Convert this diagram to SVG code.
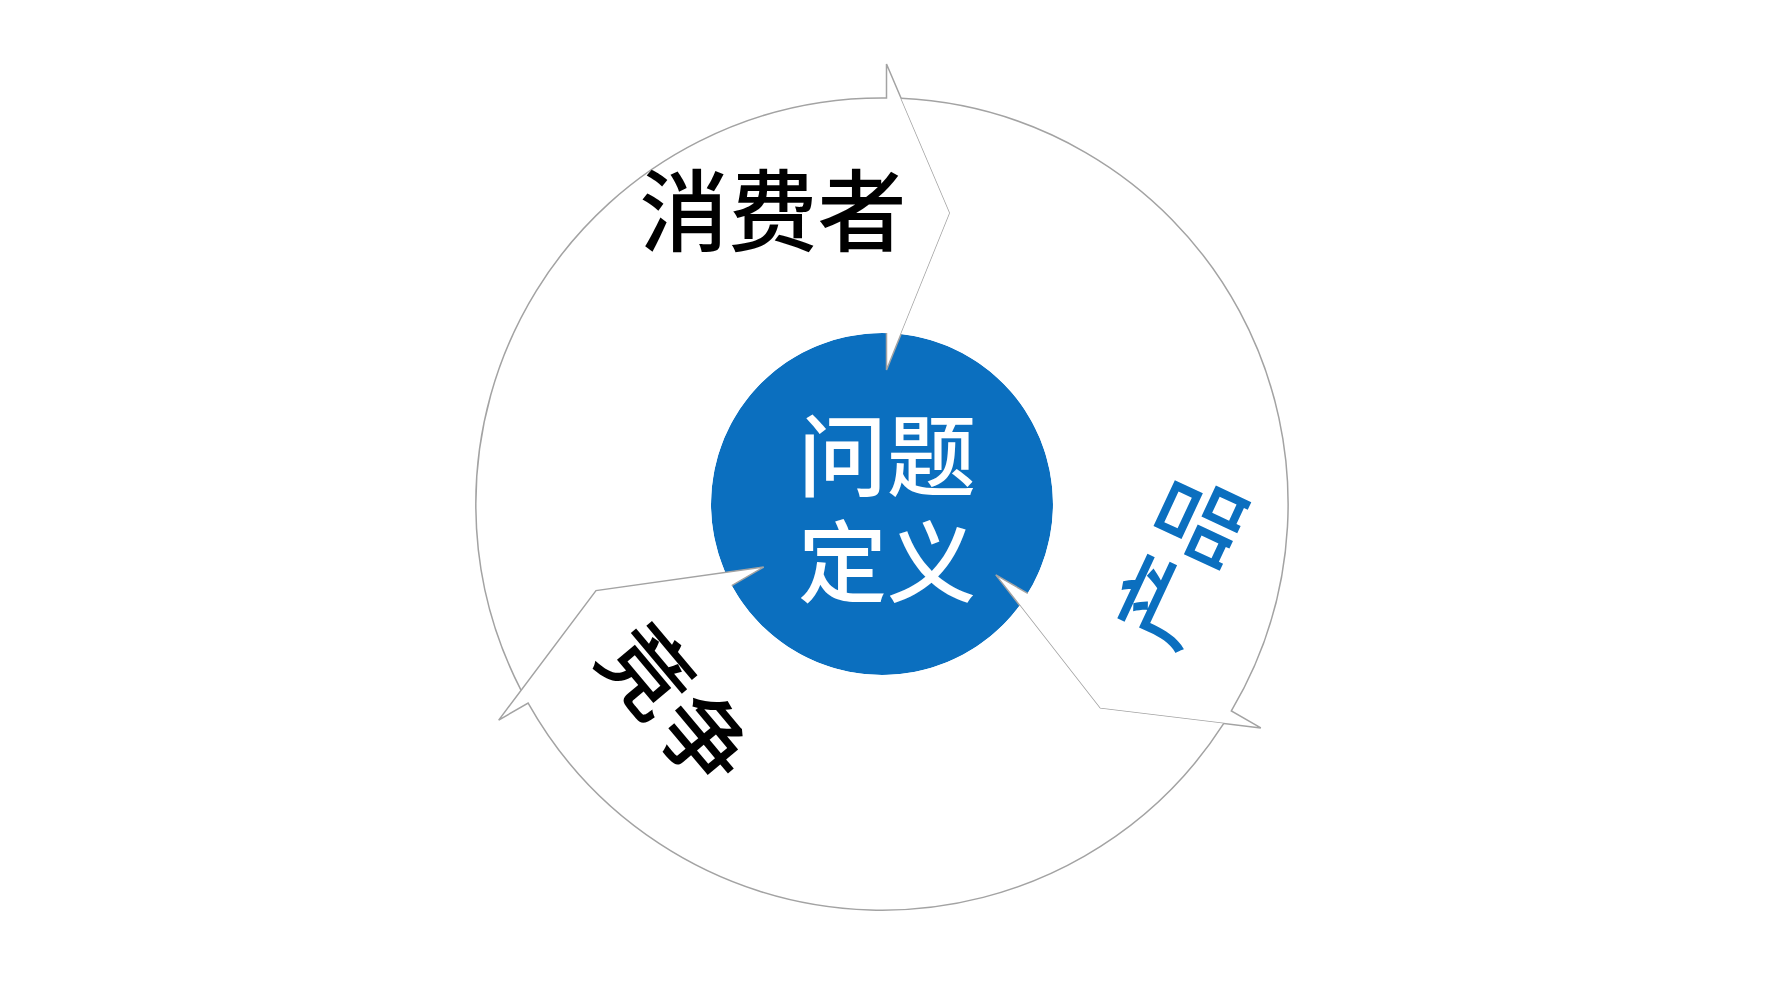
<svg xmlns="http://www.w3.org/2000/svg" xmlns:xlink="http://www.w3.org/1999/xlink" width="1778" height="1000" viewBox="0 0 1778 1000">
<style>
.seg-fill{fill:#ffffff;stroke:none}
.seg-edge{fill:none;stroke:#a3a3a3;stroke-width:1.5;stroke-linejoin:miter}
.lbl{font-family:"Noto Sans CJK SC","Noto Sans",sans-serif;font-size:89px;font-weight:500;text-anchor:middle}
</style>
<defs>
<path id="segFill" d="M -360.9 186.3 A 406 406 0 0 1 4.5 -406 L 4.5 -440 L 68 -291 L 4.5 -134 L 4.5 -170.9 A 171 171 0 0 0 -156.7 68.5 L -286 86.6 Z"/>
<path id="segEdge" d="M -360.9 186.3 A 406 406 0 0 1 4.5 -406 L 4.5 -440 L 68 -291 L 4.5 -134 L 4.5 -170.9"/>
</defs>
<rect x="0" y="0" width="1778" height="1000" fill="#ffffff"/>
<g id="center-node">
<circle cx="882" cy="504" r="171" fill="#0b6fbf"/>
<text class="lbl" x="887" y="489" fill="#ffffff">问题</text>
<text class="lbl" x="887" y="595" fill="#ffffff">定义</text>
</g>
<g id="connectors">
<g id="arrow-consumer" transform="translate(882 504) rotate(0)">
<use xlink:href="#segFill" class="seg-fill"/>
<use xlink:href="#segEdge" class="seg-edge"/>
</g>
<g id="arrow-product" transform="translate(882 504) rotate(120)">
<use xlink:href="#segFill" class="seg-fill"/>
<use xlink:href="#segEdge" class="seg-edge"/>
</g>
<g id="arrow-competition" transform="translate(882 504) rotate(240)">
<use xlink:href="#segFill" class="seg-fill"/>
<use xlink:href="#segEdge" class="seg-edge"/>
</g>
</g>
<g id="node-consumer">
<text class="lbl" x="773" y="244" fill="#000000">消费者</text>
</g>
<g id="node-product">
<text class="lbl" transform="translate(1180 560) rotate(-65)" x="0" y="33" fill="#0b6fbf">产品</text>
</g>
<g id="node-competition">
<text class="lbl" transform="translate(676 705) rotate(50)" x="0" y="33" fill="#000000">竞争</text>
</g>
</svg>
